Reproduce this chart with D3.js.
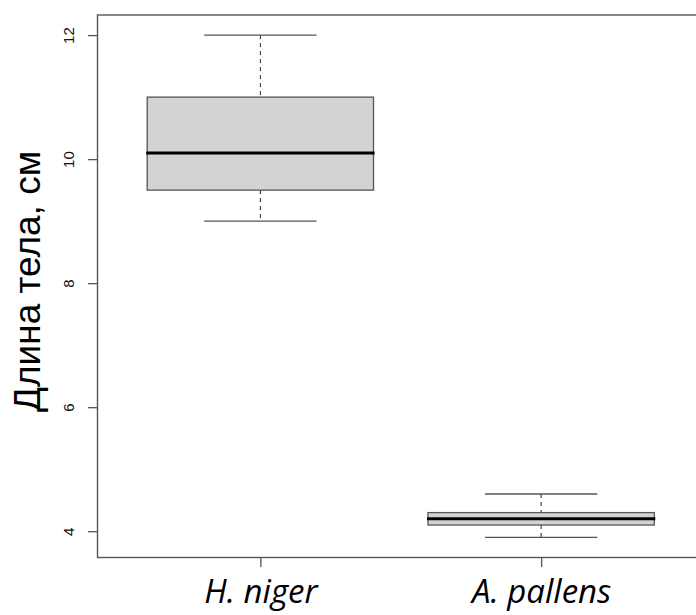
<!DOCTYPE html>
<html>
<head>
<meta charset="utf-8">
<script src="https://cdn.jsdelivr.net/npm/d3@7/dist/d3.min.js"></script>
<style>
  html, body { margin: 0; padding: 0; background: #fff; }
  svg { display: block; }
</style>
</head>
<body>
<svg id="chart" width="696" height="615"></svg>
<script>
const categories = ["H. niger", "A. pallens"];
const lowerWhisker = [9, 3.9];
const q1 = [9.5, 4.1];
const median = [10.1, 4.2];
const q3 = [11, 4.3];
const upperWhisker = [12, 4.6];
const yTicks = [4, 6, 8, 10, 12];
const yTitle = "Длина тела, см";

const W = 696, H = 615;
const plot = { left: 97.5, right: 704, top: 15, bottom: 557.5 };

const svg = d3.select("#chart");

const x = d3.scaleLinear().domain([0.42, 2.58]).range([plot.left, plot.right]);
const y = d3.scaleLinear().domain([3.576, 12.324]).range([plot.bottom, plot.top]);

const frameColor = "#555";

const data = categories.map((c, i) => ({
  cat: c, pos: i + 1,
  lo: lowerWhisker[i], q1: q1[i], med: median[i], q3: q3[i], hi: upperWhisker[i]
}));

const boxHalf = 0.403, capHalf = 0.2;

const g = svg.append("g");

const box = g.selectAll("g.box").data(data).enter().append("g").attr("class", "box");

// whiskers (dashed)
box.append("line")
  .attr("x1", d => x(d.pos)).attr("x2", d => x(d.pos))
  .attr("y1", d => y(d.hi)).attr("y2", d => y(d.q3))
  .attr("stroke", "#222").attr("stroke-width", 1).attr("stroke-dasharray", "4,4");
box.append("line")
  .attr("x1", d => x(d.pos)).attr("x2", d => x(d.pos))
  .attr("y1", d => y(d.q1)).attr("y2", d => y(d.lo))
  .attr("stroke", "#222").attr("stroke-width", 1).attr("stroke-dasharray", "4,4");
// caps
box.append("line")
  .attr("x1", d => x(d.pos - capHalf)).attr("x2", d => x(d.pos + capHalf))
  .attr("y1", d => y(d.hi)).attr("y2", d => y(d.hi))
  .attr("stroke", frameColor).attr("stroke-width", 1.3);
box.append("line")
  .attr("x1", d => x(d.pos - capHalf)).attr("x2", d => x(d.pos + capHalf))
  .attr("y1", d => y(d.lo)).attr("y2", d => y(d.lo))
  .attr("stroke", frameColor).attr("stroke-width", 1.3);
// box
box.append("rect")
  .attr("x", d => x(d.pos - boxHalf))
  .attr("width", d => x(d.pos + boxHalf) - x(d.pos - boxHalf))
  .attr("y", d => y(d.q3))
  .attr("height", d => y(d.q1) - y(d.q3))
  .attr("fill", "#d3d3d3").attr("stroke", frameColor).attr("stroke-width", 1.3);
// median
box.append("line")
  .attr("x1", d => x(d.pos - boxHalf) - 1).attr("x2", d => x(d.pos + boxHalf) + 1)
  .attr("y1", d => y(d.med)).attr("y2", d => y(d.med))
  .attr("stroke", "#000").attr("stroke-width", 3);

// frame
g.append("rect")
  .attr("x", plot.left).attr("y", plot.top)
  .attr("width", plot.right - plot.left).attr("height", plot.bottom - plot.top)
  .attr("fill", "none").attr("stroke", frameColor).attr("stroke-width", 1.4);

// y axis
const yAxis = d3.axisLeft(y).tickValues(yTicks).tickSize(9.5).tickFormat(d3.format("d"));
const yg = g.append("g").attr("transform", `translate(${plot.left},0)`).call(yAxis);
yg.select(".domain").remove();
yg.selectAll(".tick line").attr("stroke", frameColor).attr("stroke-width", 1.3);
yg.selectAll(".tick text")
  .attr("transform", "rotate(-90)")
  .attr("x", 0).attr("y", -23.5).attr("dy", 0)
  .attr("text-anchor", "middle")
  .attr("fill", "#111")
  .style("font-family", "'Liberation Sans', Arial, sans-serif")
  .style("font-size", "15px");

// x axis
const xAxis = d3.axisBottom(x).tickValues(data.map(d => d.pos)).tickSize(9.5)
  .tickFormat((d, i) => categories[i]);
const xg = g.append("g").attr("transform", `translate(0,${plot.bottom})`).call(xAxis);
xg.select(".domain").remove();
xg.selectAll(".tick line").attr("stroke", frameColor).attr("stroke-width", 1.3);
xg.selectAll(".tick text")
  .attr("y", 45.5).attr("dy", 0)
  .attr("fill", "#000")
  .style("font-family", "'Open Sans', 'Noto Sans', sans-serif")
  .style("font-style", "italic")
  .style("font-size", "33px");

// y title
svg.append("text")
  .attr("transform", `translate(40,281.5) rotate(-90)`)
  .attr("text-anchor", "middle")
  .attr("fill", "#000")
  .style("font-family", "'Liberation Sans', Arial, sans-serif")
  .style("font-size", "37px")
  .text(yTitle);
</script>
</body>
</html>
